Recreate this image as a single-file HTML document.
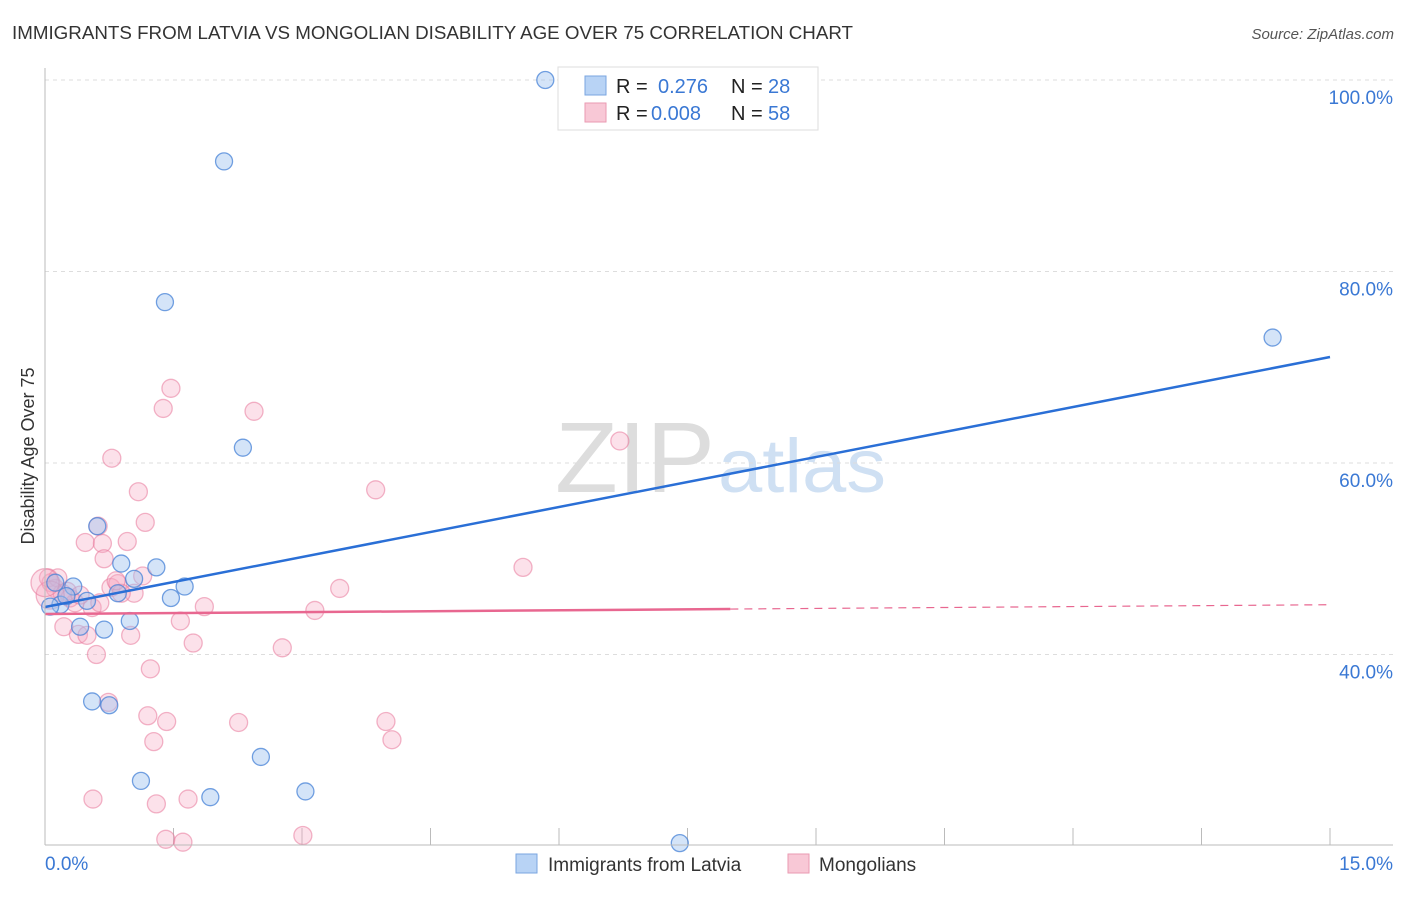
<!DOCTYPE html>
<html><head><meta charset="utf-8"><style>
body{margin:0;background:#fff;font-family:"Liberation Sans",sans-serif;}
svg text{font-family:"Liberation Sans",sans-serif;}
</style></head><body>
<svg id="chart" width="1406" height="892" xmlns="http://www.w3.org/2000/svg">
<text x="12" y="39" font-size="18" fill="#333" textLength="841" lengthAdjust="spacingAndGlyphs">IMMIGRANTS FROM LATVIA VS MONGOLIAN DISABILITY AGE OVER 75 CORRELATION CHART</text>
<text x="1394" y="39" font-size="15" fill="#555" font-style="italic" text-anchor="end">Source: ZipAtlas.com</text>
<text x="555" y="492" font-size="100" fill="#ddd" font-family="Liberation Serif" textLength="160" lengthAdjust="spacingAndGlyphs">ZIP</text>
<text x="718" y="492" font-size="76" fill="#cfe0f3" textLength="168" lengthAdjust="spacingAndGlyphs">atlas</text>
<g id="grid"></g>
<g id="marks"></g>
<g id="trends"></g>
<line x1="45" y1="68" x2="45" y2="845" stroke="#bbb"/>
<line x1="45" y1="845" x2="1393" y2="845" stroke="#bbb"/>
<text transform="translate(34,456) rotate(-90)" font-size="18" fill="#333" text-anchor="middle">Disability Age Over 75</text>
<text x="45" y="870" font-size="19" fill="#3a78d4">0.0%</text>
<text x="1393" y="870" font-size="19" fill="#3a78d4" text-anchor="end">15.0%</text>
<g>
<rect x="558" y="67" width="260" height="63" fill="#fff" stroke="#ddd"/>
<rect x="585" y="76" width="21" height="19" fill="#b8d3f5" stroke="#7aa6e0"/>
<rect x="585" y="103" width="21" height="19" fill="#f8c8d6" stroke="#ea9ab2"/>
<text x="616" y="93" font-size="20" fill="#222">R =</text><text x="658" y="93" font-size="20" fill="#3a78d4">0.276</text>
<text x="731" y="93" font-size="20" fill="#222">N =</text><text x="768" y="93" font-size="20" fill="#3a78d4">28</text>
<text x="616" y="120" font-size="20" fill="#222">R =</text><text x="651" y="120" font-size="20" fill="#3a78d4">0.008</text>
<text x="731" y="120" font-size="20" fill="#222">N =</text><text x="768" y="120" font-size="20" fill="#3a78d4">58</text>
</g>
<g>
<rect x="516" y="854" width="21" height="19" fill="#b8d3f5" stroke="#7aa6e0"/>
<text x="548" y="871" font-size="19" fill="#333">Immigrants from Latvia</text>
<rect x="788" y="854" width="21" height="19" fill="#f8c8d6" stroke="#ea9ab2"/>
<text x="819" y="871" font-size="19" fill="#333">Mongolians</text>
</g>
</svg>
<script>
const yTicks=[100,80,60,40];
const yTickLabels=["100.0%","80.0%","60.0%","40.0%"];
const xTicks=[1.5,3,4.5,6,7.5,9,10.5,12,13.5,15];
const latviaX=[5.84,2.09,1.40,2.31,14.33,0.61,0.89,1.30,1.04,1.63,0.33,0.85,1.47,0.49,0.18,0.06,0.41,0.69,0.99,0.55,0.75,2.52,1.12,1.93,3.04,7.41,0.12,0.25];
const latviaY=[100,91.5,76.8,61.6,73.1,53.4,49.5,49.1,47.9,47.1,47.1,46.4,45.9,45.6,45.2,45.0,42.9,42.6,43.5,35.1,34.7,29.3,26.8,25.1,25.7,20.3,47.5,46.1];
const mongolX=[1.47,1.38,2.44,0.78,6.71,3.86,1.09,1.17,0.62,0.47,0.67,0.96,0.69,5.58,0.77,1.14,0.85,1.04,3.44,1.86,3.15,0.55,1.58,0.22,0.39,0.49,1.00,1.73,0.60,2.77,1.23,0.74,1.20,1.42,2.26,3.98,4.05,1.27,0.56,1.30,1.67,1.41,1.61,3.01,0.07,0.04,0.12,0.20,0.29,0.35,0.15,0.26,0.41,0.64,0.89,0.83,0.06,0.0];
const mongolY=[67.8,65.7,65.4,60.5,62.3,57.2,57.0,53.8,53.4,51.7,51.6,51.8,50.0,49.1,47.0,48.2,47.4,46.4,46.9,45.0,44.6,44.9,43.5,42.9,42.1,42.0,42.0,41.2,40.0,40.7,38.5,35.0,33.6,33.0,32.9,33.0,31.1,30.9,24.9,24.4,24.9,20.7,20.4,21.1,47.5,48.0,46.9,46.4,45.9,45.4,48.0,46.6,46.2,45.4,46.4,47.7,46.2,47.5];
const latviaTrend=[44.96,71.07];
const mongolTrend=[44.23,45.2];
const NS="http://www.w3.org/2000/svg";
const X=v=>45+v/15*1285;
const Y=v=>80+(100-v)/20*191.5;
function mk(t,a,p){const e=document.createElementNS(NS,t);for(const k in a)e.setAttribute(k,a[k]);p.appendChild(e);return e;}
const grid=document.getElementById('grid'),marks=document.getElementById('marks'),trends=document.getElementById('trends');
yTicks.forEach((v,i)=>{
 const l=mk('line',{x1:45,x2:1393,y1:Y(v),y2:Y(v),stroke:'#ddd','stroke-dasharray':'4,4'},grid);
 
 
 const t=mk('text',{x:1393,y:Y(v)+24,'font-size':19,fill:'#3a78d4','text-anchor':'end'},grid);
 t.textContent=yTickLabels[i];
 
 
});
xTicks.forEach(v=>{
 const l=mk('line',{x1:X(v),x2:X(v),y1:828,y2:845,stroke:'#bbb'},grid);
 
 
});
mongolX.forEach((x,i)=>{
 const c=mk('circle',{cx:X(x),cy:Y(mongolY[i]),r:i>=56?14:9,fill:'rgba(246,170,195,0.35)',stroke:'rgba(232,120,155,0.55)','stroke-width':1.3},marks);
 
 
});
latviaX.forEach((x,i)=>{
 const c=mk('circle',{cx:X(x),cy:Y(latviaY[i]),r:8.5,fill:'rgba(160,195,240,0.45)',stroke:'rgba(70,130,215,0.75)','stroke-width':1.3},marks);
 
 
});
const bt=mk('line',{x1:X(0),y1:Y(latviaTrend[0]),x2:X(15),y2:Y(latviaTrend[1]),stroke:'#2a6fd6','stroke-width':2.5},trends);


const midV=mongolTrend[0]+(mongolTrend[1]-mongolTrend[0])*(8/15);
const pt=mk('line',{x1:X(0),y1:Y(mongolTrend[0]),x2:X(8),y2:Y(midV),stroke:'#e86790','stroke-width':2.5},trends);


const pd=mk('line',{x1:X(8),y1:Y(midV),x2:X(15),y2:Y(mongolTrend[1]),stroke:'#e86790','stroke-width':1.2,'stroke-dasharray':'8,6'},trends);


</script>
</body></html>
